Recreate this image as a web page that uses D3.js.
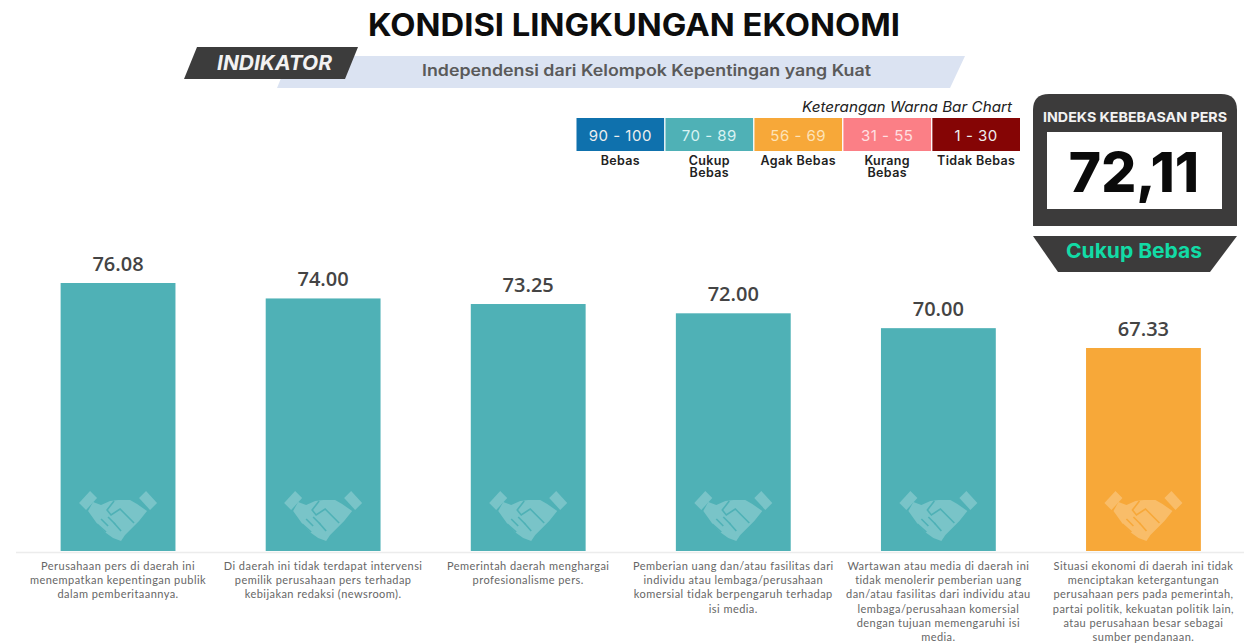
<!DOCTYPE html>
<html><head><meta charset="utf-8">
<script src="https://cdn.jsdelivr.net/npm/d3@7"></script>
<style>html,body{margin:0;padding:0;background:#fff}svg{display:block}text{font-family:Inter,"Open Sans",sans-serif}</style>
</head><body><svg id="c" width="1244" height="644"></svg>
<script>
const title = "KONDISI LINGKUNGAN EKONOMI";
const indicatorTag = "INDIKATOR";
const indicatorName = "Independensi dari Kelompok Kepentingan yang Kuat";
const legendTitle = "Keterangan Warna Bar Chart";
const legendRanges = ["90 - 100","70 - 89","56 - 69","31 - 55","1 - 30"];
const legendNames = [["Bebas"],["Cukup","Bebas"],["Agak Bebas"],["Kurang","Bebas"],["Tidak Bebas"]];
const legendColors = ["#0f71ad","#4fb1b6","#f7a839","#fb7f86","#850505"];
const thresholds = [31,56,70,90];
const indexLabel = "INDEKS KEBEBASAN PERS";
const indexValue = "72,11";
const indexCategory = "Cukup Bebas";
const values = [76.08,74.00,73.25,72.00,70.00,67.33];
const captions = [
 ["Perusahaan pers di daerah ini","menempatkan kepentingan publik","dalam pemberitaannya."],
 ["Di daerah ini tidak terdapat intervensi","pemilik perusahaan pers terhadap","kebijakan redaksi (newsroom)."],
 ["Pemerintah daerah menghargai","profesionalisme pers."],
 ["Pemberian uang dan/atau fasilitas dari","individu atau lembaga/perusahaan","komersial tidak berpengaruh terhadap","isi media."],
 ["Wartawan atau media di daerah ini","tidak menolerir pemberian uang","dan/atau fasilitas dari individu atau","lembaga/perusahaan komersial","dengan tujuan memengaruhi isi","media."],
 ["Situasi ekonomi di daerah ini tidak","menciptakan ketergantungan","perusahaan pers pada pemerintah,","partai politik, kekuatan politik lain,","atau perusahaan besar sebagai","sumber pendanaan."]
];

const svg = d3.select("#c");
const x = d3.scaleBand().domain(d3.range(values.length)).range([15.5,1246]).paddingInner(0.44).paddingOuter(0.22);
const y = d3.scaleLinear().domain([40,76.08]).range([551,283]);
const color = d3.scaleThreshold().domain(thresholds).range(legendColors.slice().reverse());
const poly = p => d3.line()(p)+"Z";

// header
svg.append("text").attr("x",634).attr("y",36).attr("text-anchor","middle")
  .attr("font-size",31).attr("font-weight",700).attr("fill","#0d0d0d").attr("textLength",532).attr("lengthAdjust","spacingAndGlyphs").text(title);
svg.append("path").attr("d",poly([[290,56],[965,56],[950,88],[277,88]])).attr("fill","#dbe3f2");
svg.append("path").attr("d",poly([[197,47],[358,47],[345,79],[184,79]])).attr("fill","#3c3c3c");
svg.append("text").attr("x",274.5).attr("y",70).attr("text-anchor","middle").attr("font-size",20)
  .attr("font-weight",700).attr("font-style","italic").attr("fill","#f2f2f2").attr("textLength",115).attr("lengthAdjust","spacingAndGlyphs").text(indicatorTag);
svg.append("text").attr("x",646.5).attr("y",76).attr("text-anchor","middle").attr("font-size",15.5)
  .attr("font-weight",600).attr("fill","#5a5a5a").attr("textLength",449).attr("lengthAdjust","spacingAndGlyphs").text(indicatorName);

// legend
svg.append("text").attr("x",1012).attr("y",112).attr("text-anchor","end").attr("font-size",14.5)
  .attr("font-style","italic").attr("fill","#222").attr("textLength",210).attr("lengthAdjust","spacingAndGlyphs").text(legendTitle);
const lx = d3.scaleBand().domain(d3.range(legendRanges.length)).range([576.5,1020]).paddingInner(0.015);
const lg = svg.append("g").selectAll("g").data(legendRanges).join("g").attr("transform",(d,i)=>`translate(${lx(i)},118)`);
lg.append("rect").attr("width",lx.bandwidth()).attr("height",33).attr("fill",(d,i)=>legendColors[i]);
lg.append("text").attr("x",lx.bandwidth()/2).attr("y",23).attr("text-anchor","middle").attr("font-size",15)
  .attr("letter-spacing",0.5)
  .attr("fill",(d,i)=>i==1?"#d9f3f3":i==2?"#fde3b8":i==3?"#ffe0e2":"#eee").text(d=>d);
lg.each(function(d,i){
  d3.select(this).selectAll("text.n").data(legendNames[i]).join("text").attr("class","n")
    .attr("x",lx.bandwidth()/2).attr("y",(t,j)=>47+j*12).attr("text-anchor","middle")
    .attr("font-size",12.5).attr("font-weight",600).attr("letter-spacing",0.35).attr("fill","#222").text(t=>t);
});

// index panel
svg.append("path").attr("d","M1033,226V110Q1033,94 1049,94H1221Q1237,94 1237,110V226Z").attr("fill","#3c3b3b");
svg.append("rect").attr("x",1047).attr("y",132).attr("width",175).attr("height",77).attr("fill","#fff");
svg.append("text").attr("x",1135).attr("y",122).attr("text-anchor","middle").attr("font-size",13.5)
  .attr("font-weight",700).attr("fill","#f2f2f2").attr("textLength",184).attr("lengthAdjust","spacingAndGlyphs").text(indexLabel);
svg.append("text").attr("x",1134).attr("y",192).attr("text-anchor","middle").attr("font-size",55)
  .attr("font-weight",800).attr("fill","#0a0a0a").text(indexValue);
svg.append("path").attr("d",poly([[1033,236],[1237,236],[1210,272],[1058,272]])).attr("fill","#3c3b3b");
svg.append("text").attr("x",1134).attr("y",258).attr("text-anchor","middle").attr("font-size",20.5)
  .attr("font-weight",700).attr("fill","#12dba6").attr("textLength",136).attr("lengthAdjust","spacingAndGlyphs").text(indexCategory);

// baseline
const axis = d3.axisBottom(x).tickSize(0).tickFormat("");
const ag = svg.append("g").attr("transform","translate(0,552)").call(axis);
ag.select(".domain").attr("stroke","#ececec").attr("stroke-width",1.5);

// bars
const bars = svg.append("g").selectAll("g").data(values).join("g");
bars.append("rect").attr("x",(d,i)=>x(i)).attr("width",x.bandwidth()).attr("y",d=>y(d)).attr("height",d=>y(40)-y(d)).attr("fill",d=>color(d));
bars.append("text").attr("x",(d,i)=>x(i)+x.bandwidth()/2).attr("y",d=>y(d)-12).attr("text-anchor","middle")
  .attr("font-size",20).attr("font-weight",600).attr("fill","#444").style("font-family","'Open Sans',sans-serif").text(d=>d.toFixed(2));

// handshake icon
const iconCuffs = [
 [[-39,-12],[-28,-24],[-21,-17],[-32,-5]],
 [[39,-12],[28,-24],[21,-17],[32,-5]]
];
const iconBody = [[-25,-13],[-17,-10],[-8,-14],[0,-15],[12,-15],[19,-11],[29,-4],[21,6],[12,15],[7,20],[3,26],[-5,23],[-12,18],[-20,10],[-25,3],[-30,-4]];
const iconGaps = [
 [[-4,-14],[-11,-5],[-7,0],[2,-6],[16,8]],
 [[-17,4],[-10,11]],[[-21,9],[-12,17]],
 [[-10,2],[-3,9]],[[-4,8],[3,16]]
];
bars.each(function(d,i){
  const g = d3.select(this).append("g").attr("transform",`translate(${x(i)+x.bandwidth()/2},515)`);
  const tint = d3.interpolateRgb(color(d),"#fff")(0.24);
  g.selectAll("path.c").data(iconCuffs).join("path").attr("class","c").attr("d",poly).attr("fill",tint);
  g.append("path").attr("d",poly(iconBody)).attr("fill",tint);
  g.selectAll("path.g").data(iconGaps).join("path").attr("class","g").attr("d",d3.line())
    .attr("fill","none").attr("stroke",color(d)).attr("stroke-width",1.6);
});

// captions
bars.each(function(d,i){
  d3.select(this).selectAll("text.cap").data(captions[i]).join("text").attr("class","cap")
   .attr("x",x(i)+x.bandwidth()/2).attr("y",(t,j)=>570+j*14.2).attr("text-anchor","middle")
   .attr("font-size",11).attr("letter-spacing",0.45).attr("fill","#666").style("font-family","Lato,sans-serif").text(t=>t);
});
</script></body></html>
